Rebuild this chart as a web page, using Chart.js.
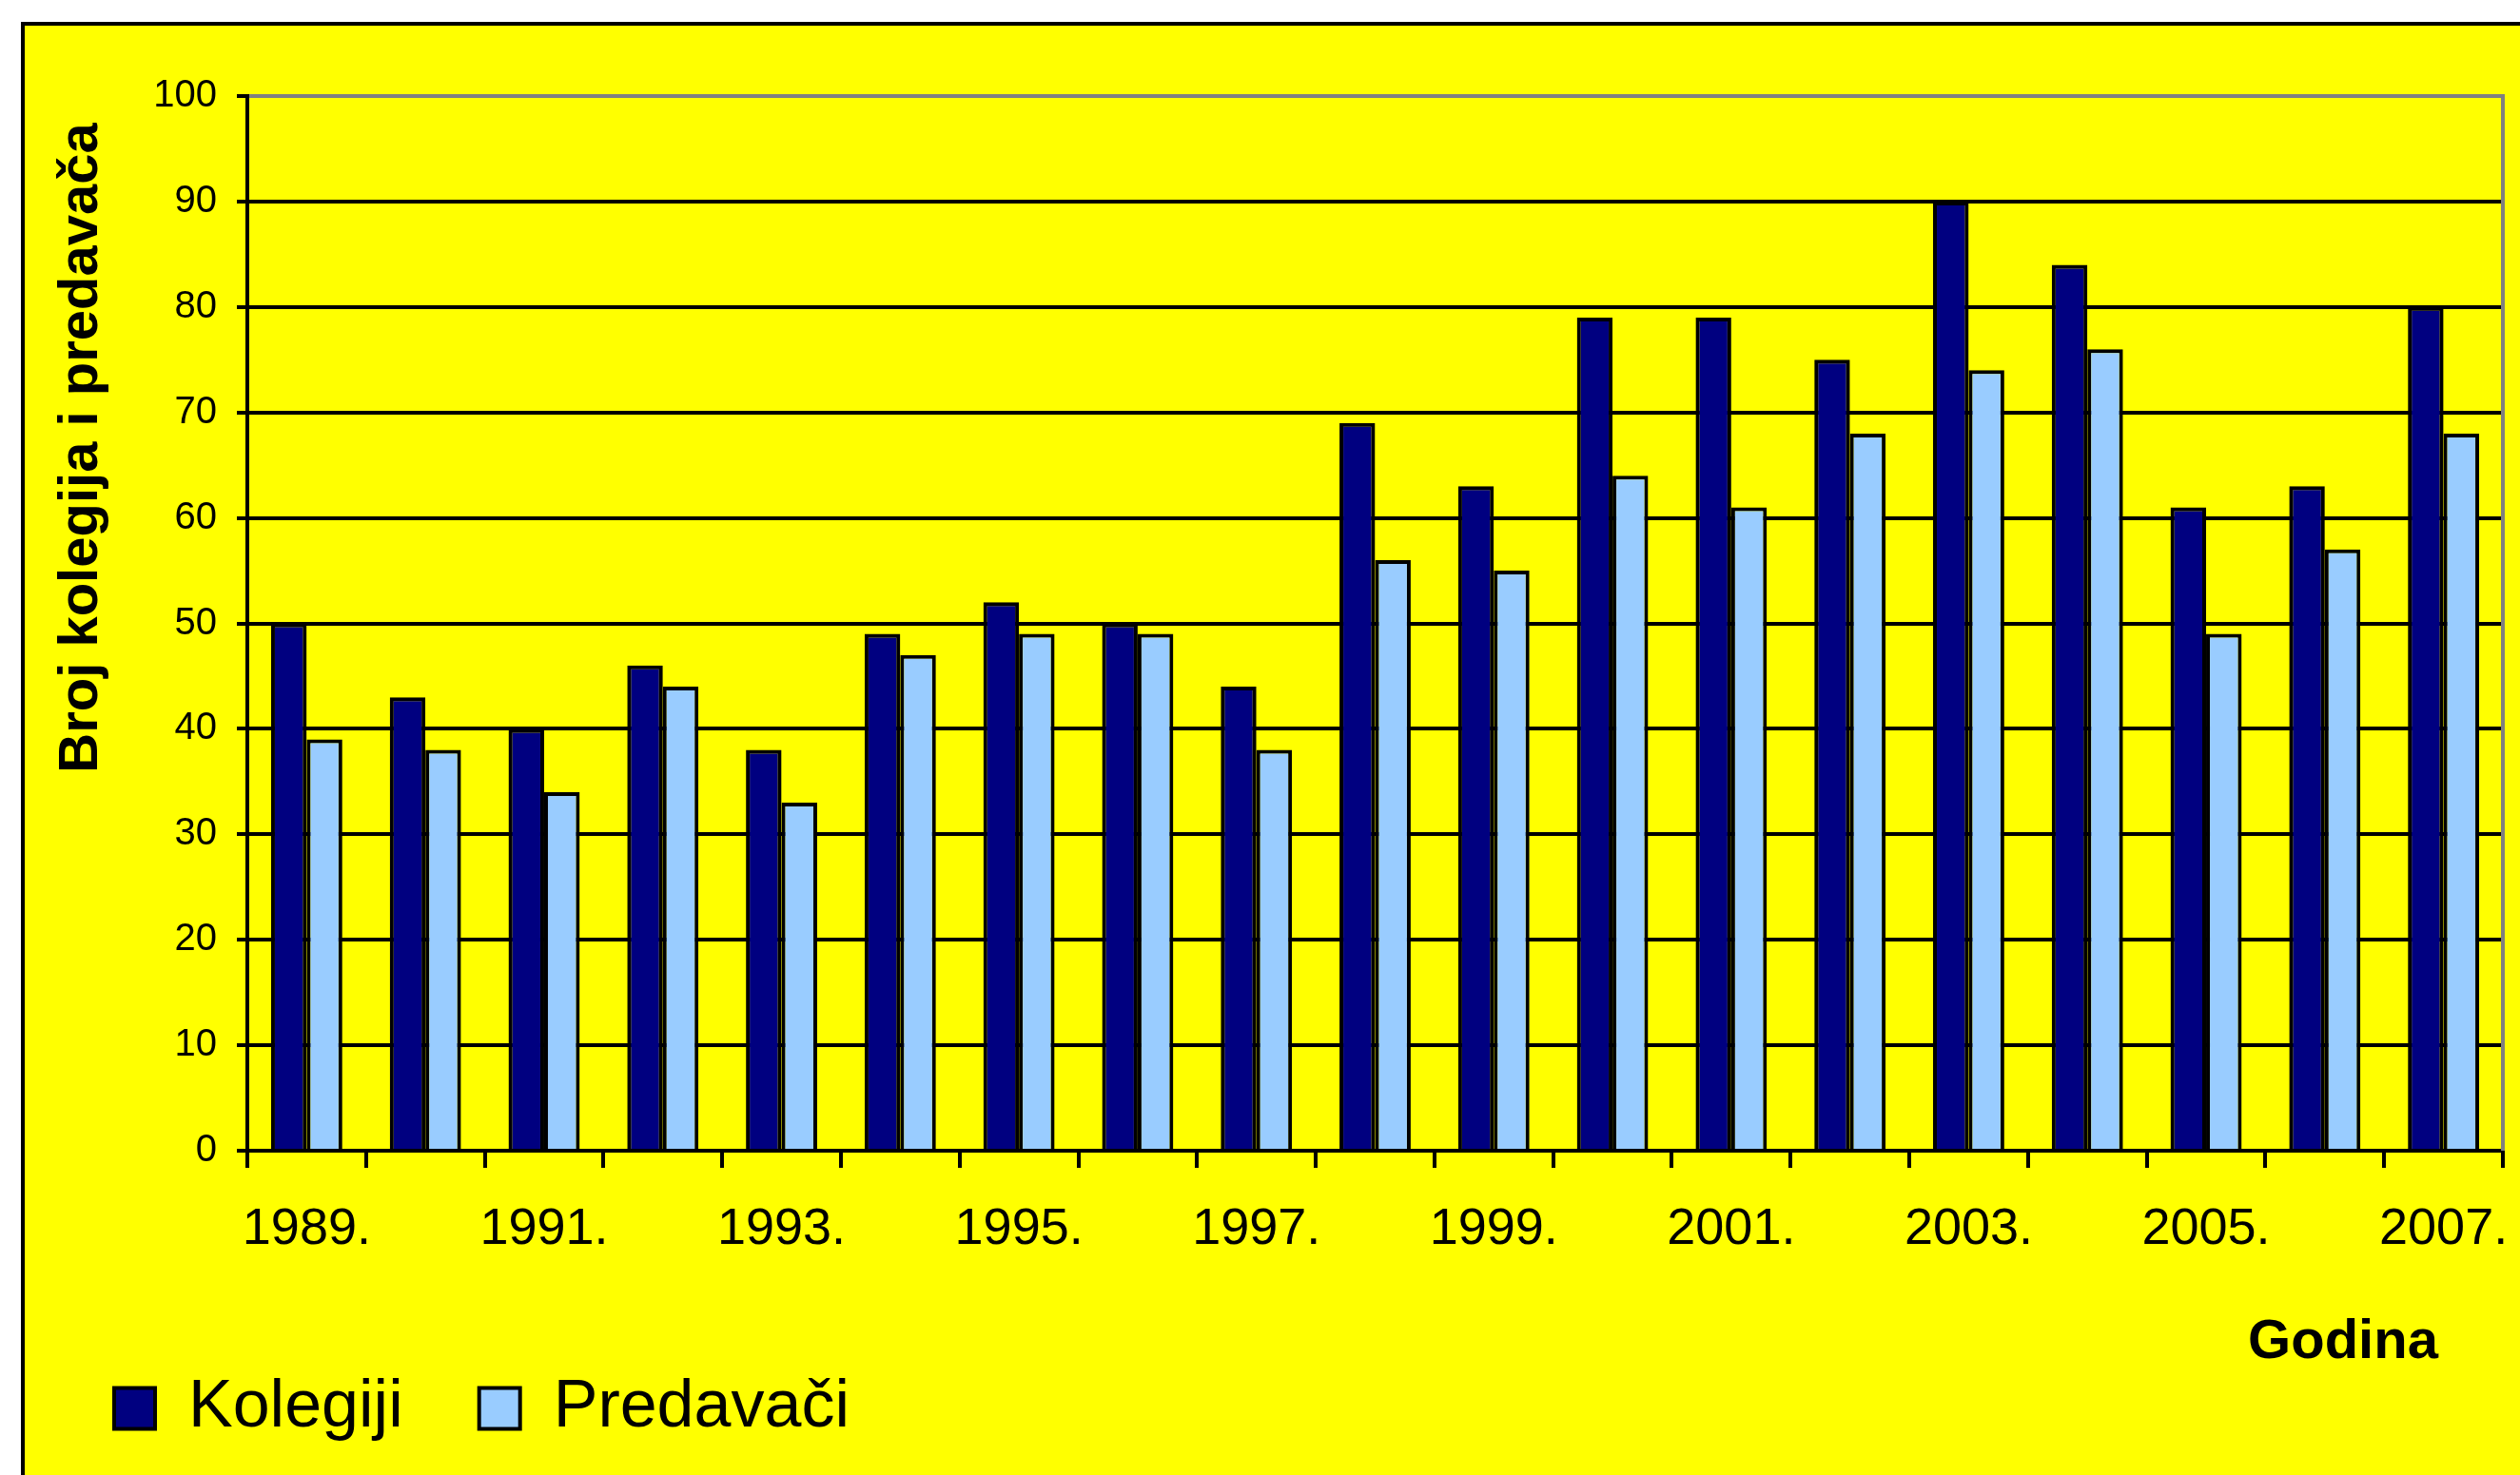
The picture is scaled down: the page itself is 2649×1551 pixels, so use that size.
<!DOCTYPE html>
<html>
<head>
<meta charset="utf-8">
<script src="https://cdn.jsdelivr.net/npm/chart.js@4"></script>
<style>
  body { margin: 0; background: #fff; overflow: hidden; }
  #frame { position: absolute; left: 22px; top: 23px; width: 2700px; height: 1600px; background: #ffff00; border: 4px solid #000; }
  #grafikon { position: absolute; left: 0; top: 0; }
</style>
</head>
<body>
<div id="frame"></div>
<canvas id="grafikon" width="2649" height="1551"></canvas>
<script>
const godine = ['1989.', '1990.', '1991.', '1992.', '1993.', '1994.', '1995.', '1996.', '1997.', '1998.',
                '1999.', '2000.', '2001.', '2002.', '2003.', '2004.', '2005.', '2006.', '2007.'];
const kolegiji = [50, 43, 40, 46, 38, 49, 52, 50, 44, 69, 63, 79, 79, 75, 90, 84, 61, 63, 80];
const predavaci = [39, 38, 34, 44, 33, 47, 49, 49, 38, 56, 55, 64, 61, 68, 74, 76, 49, 57, 68];
const yTicks = [0, 10, 20, 30, 40, 50, 60, 70, 80, 90, 100];

const FONT = "'Liberation Sans', Arial, sans-serif";

// naslovi osi i sivi desni rub
const dodaci = {
    id: 'dodaci',
    afterDraw(chart) {
        const ctx = chart.ctx;
        const a = chart.chartArea;
        ctx.save();
        ctx.strokeStyle = '#808080';
        ctx.lineWidth = 4;
        ctx.beginPath();
        ctx.moveTo(a.right, a.top - 2);
        ctx.lineTo(a.right, a.bottom);
        ctx.stroke();

        ctx.fillStyle = '#000';
        ctx.font = 'bold 58px ' + FONT;
        ctx.textAlign = 'center';
        ctx.textBaseline = 'middle';
        ctx.translate(86, 471);
        ctx.rotate(-Math.PI / 2);
        ctx.fillText('Broj kolegija i predavača', 0, 0);
        ctx.restore();

        ctx.save();
        ctx.fillStyle = '#000';
        ctx.font = 'bold 58px ' + FONT;
        ctx.textAlign = 'center';
        ctx.textBaseline = 'middle';
        ctx.fillText('Godina', 2463, 1412);
        ctx.restore();
    }
};

const grafikon = new Chart(document.getElementById('grafikon').getContext('2d'), {
    type: 'bar',
    data: {
        labels: godine,
        datasets: [{
            label: 'Kolegiji',
            data: kolegiji,
            backgroundColor: '#000080',
            borderColor: '#000',
            borderWidth: 4
        },
        {
            label: 'Predavači',
            data: predavaci,
            backgroundColor: '#99ccff',
            borderColor: '#000',
            borderWidth: 4
        }]
    },
    options: {
        responsive: false,
        animation: false,
        categoryPercentage: 0.6,
        barPercentage: 1.0,
        layout: {
            padding: { left: 40, right: 18, top: 101, bottom: 25 }
        },
        plugins: {
            legend: {
                position: 'bottom',
                align: 'start',
                labels: {
                    boxWidth: 43,
                    boxHeight: 43,
                    padding: 80,
                    color: '#000',
                    font: { family: FONT, size: 70 }
                }
            },
            tooltip: { enabled: false }
        },
        scales: {
            x: {
                grid: {
                    drawOnChartArea: false,
                    drawTicks: true,
                    tickLength: 18,
                    color: '#000',
                    lineWidth: 4
                },
                border: { display: true, color: '#000', width: 4 },
                ticks: {
                    autoSkip: false,
                    maxRotation: 0,
                    padding: 33,
                    color: '#000',
                    font: { family: FONT, size: 54 },
                    callback: (v, i) => i % 2 === 0 ? godine[i] : ''
                },
                afterFit: s => { s.height = 156; s.paddingLeft = 0; s.paddingRight = 0; }
            },
            y: {
                min: 0,
                max: 100,
                afterBuildTicks: s => { s.ticks = yTicks.map(v => ({ value: v })); },
                grid: {
                    color: c => c.tick && c.tick.value === 100 ? '#808080' : '#000',
                    tickColor: '#000',
                    lineWidth: 4,
                    tickLength: 11
                },
                border: { display: true, color: '#000', width: 4 },
                ticks: {
                    padding: 21,
                    color: '#000',
                    font: { family: FONT, size: 40 }
                },
                afterFit: s => { s.width = 220; s.paddingTop = 0; s.paddingBottom = 0; }
            }
        }
    },
    plugins: [dodaci]
});
</script>
</body>
</html>
